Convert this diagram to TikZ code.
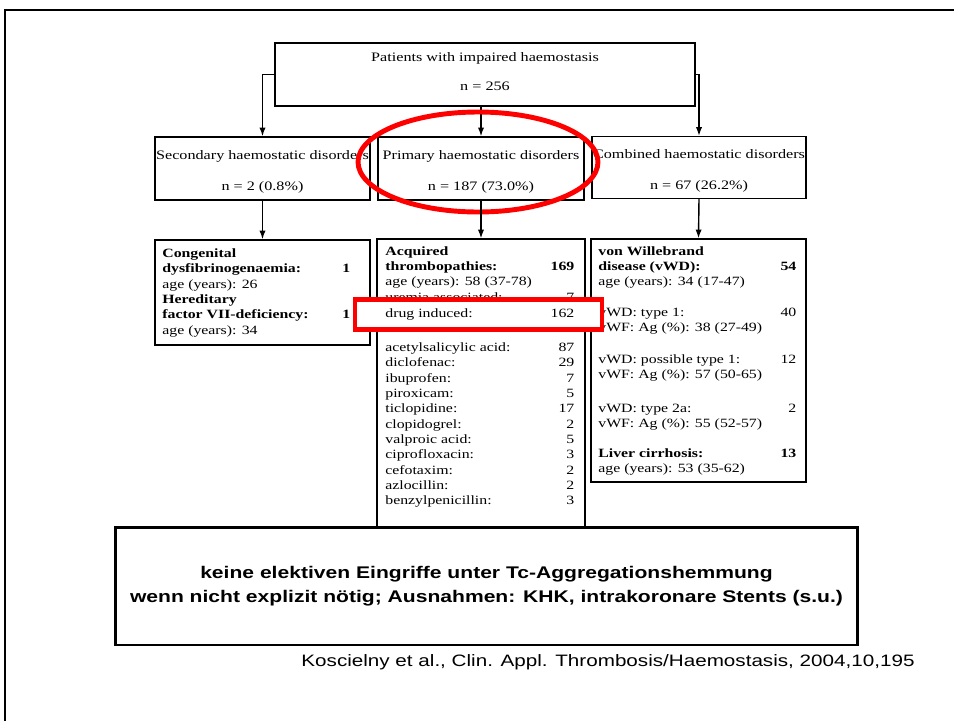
\documentclass[tikz,border=0pt]{standalone}
\usepackage{graphicx}
\usepackage{fontspec}
\setmainfont{Liberation Serif}
\newfontfamily\slidefont{Liberation Sans}
\usetikzlibrary{arrows.meta,positioning}
\newcommand{\squash}[1]{\scalebox{1}[0.8]{#1}}
\begin{document}
\begin{tikzpicture}[x=0.02cm, y=-0.02cm,
  headbox/.style={draw, line width=0.8pt, inner sep=0pt, font=\fontsize{9.2}{22}\selectfont},
  listbox/.style={draw, line width=0.8pt, inner sep=0pt},
  listtext/.style={anchor=north west, inner sep=0pt, font=\fontsize{9}{10.8}\selectfont},
  scanarrow/.style={-{Latex[length=5pt,width=3.6pt]}, line width=0.8pt},
  notebox/.style={draw, line width=1.7pt, fill=white, inner sep=0pt, minimum width=14.86cm, minimum height=2.36cm, font=\slidefont\bfseries\fontsize{12}{17.1}\selectfont}]
	\useasboundingbox (0,0) rectangle (954,721);
	\draw[line width=1.7pt] (5,721) -- (5,10) -- (954,10);
	\node[headbox, minimum width=8.4cm, minimum height=1.26cm] (top) at (485,74.5) {};
	\node[inner sep=0pt, font=\fontsize{9.2}{21.3}\selectfont] (toptxt) at (485,70) {\squash{\begin{tabular}{@{}c@{}}Patients with impaired haemostasis\\ n = 256\end{tabular}}};
	\node[headbox, minimum width=4.3cm, minimum height=1.26cm] (sec) at (262.5,168.5) {\squash{\begin{tabular}{@{}c@{}}Secondary haemostatic disorders\\ n = 2 (0.8\%)\end{tabular}}};
	\node[headbox, minimum width=4.12cm, minimum height=1.26cm] (prim) at (481,168.5) {\squash{\begin{tabular}{@{}c@{}}Primary haemostatic disorders\\ n = 187 (73.0\%)\end{tabular}}};
	\node[headbox, minimum width=4.28cm, minimum height=1.22cm] (comb) at (699,167.5) {\squash{\begin{tabular}{@{}c@{}}Combined haemostatic disorders\\ n = 67 (26.2\%)\end{tabular}}};
	\draw[scanarrow] (top.west) -| (sec.north);
	\draw[scanarrow] (top.south -| prim.north) -- (prim.north);
	\draw[scanarrow] (top.east) -| (comb.north);
	\draw[red, line width=2.8pt] (478,162) ellipse [x radius=2.4cm, y radius=1cm];
	\node[listbox, minimum width=4.3cm, minimum height=2.1cm] (cong) at (262.5,292.5) {};
	\node[listbox, minimum width=4.16cm, minimum height=7.22cm] (acq) at (481,419.5) {};
	\node[listbox, minimum width=4.3cm, minimum height=4.86cm] (vwd) at (698.5,360.5) {};
	\draw[scanarrow] (sec.south) -- (cong.north);
	\draw[scanarrow] (prim.south) -- (acq.north);
	\draw[scanarrow] (comb.south) -- (vwd.north);
	\node[listtext, font=\fontsize{9}{10.9}\selectfont] (congtxt) at (162,246.5) {\squash{\begin{tabular*}{3.76cm}{@{}l@{\extracolsep{\fill}}r@{}}
		\textbf{Congenital} & \\
		\textbf{dysfibrinogenaemia:} & \textbf{1}\\
		age (years): 26 & \\
		\textbf{Hereditary} & \\
		\textbf{factor VII-deficiency:} & \textbf{1}\\
		age (years): 34 &
	\end{tabular*}}};
	\node[listtext, font=\fontsize{9}{10.7}\selectfont] (acqtxt) at (385,245) {\squash{\begin{tabular*}{3.78cm}{@{}l@{\extracolsep{\fill}}r@{}}
		\textbf{Acquired} & \\
		\textbf{thrombopathies:} & \textbf{169}\\
		age (years): 58 (37-78) & \\
		uremia associated: & 7
	\end{tabular*}}};
	\node[listtext, font=\fontsize{9}{10.7}\selectfont] (vwdtxt) at (598,244.7) {\squash{\begin{tabular*}{3.96cm}{@{}l@{\extracolsep{\fill}}r@{}}
		\textbf{von Willebrand} & \\
		\textbf{disease (vWD):} & \textbf{54}\\
		age (years): 34 (17-47) & \\[11.4pt]
		vWD: type 1: & 40\\
		vWF: Ag (\%): 38 (27-49) & \\[12pt]
		vWD: possible type 1: & 12\\
		vWF: Ag (\%): 57 (50-65) & \\[13.5pt]
		vWD: type 2a: & 2\\
		vWF: Ag (\%): 55 (52-57) & \\[10.7pt]
		\textbf{Liver cirrhosis:} & \textbf{13}\\
		age (years): 53 (35-62) &
	\end{tabular*}}};
	\node[draw=red, line width=2.5pt, fill=white, inner sep=0pt, minimum width=4.94cm, minimum height=0.6cm] (hilite) at (478.5,314.5) {};
	\node[listtext, font=\fontsize{9}{10.9}\selectfont] (acqlist) at (385,306.5) {\squash{\begin{tabular*}{3.78cm}{@{}l@{\extracolsep{\fill}}r@{}}
		drug induced: & 162\\[13.3pt]
		acetylsalicylic acid: & 87\\
		diclofenac: & 29\\
		ibuprofen: & 7\\
		piroxicam: & 5\\
		ticlopidine: & 17\\
		clopidogrel: & 2\\
		valproic acid: & 5\\
		ciprofloxacin: & 3\\
		cefotaxim: & 2\\
		azlocillin: & 2\\
		benzylpenicillin: & 3
	\end{tabular*}}};
	\node[notebox] (note) at (486.5,586) {\squash{\begin{tabular}{@{}c@{}}keine elektiven Eingriffe unter Tc-Aggregationshemmung\\ wenn nicht explizit nötig; Ausnahmen: KHK, intrakoronare Stents (s.u.)\end{tabular}}};
	\node[font=\slidefont\fontsize{11.75}{14}\selectfont, inner sep=0pt] (cite) at (608,662) {\squash{Koscielny et al., Clin. Appl. Thrombosis/Haemostasis, 2004,10,195}};
\end{tikzpicture}
\end{document}
